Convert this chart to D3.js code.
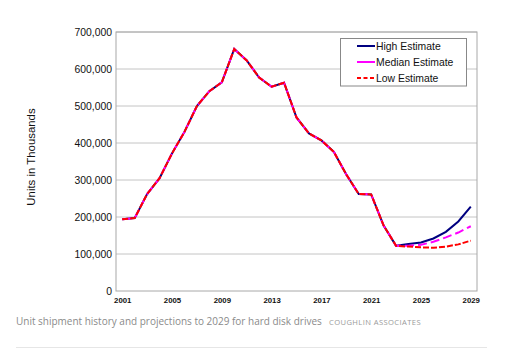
<!DOCTYPE html>
<html><head><meta charset="utf-8">
<script src="https://cdn.jsdelivr.net/npm/d3@7"></script>
<style>body{margin:0;background:#fff;}svg{display:block;}</style>
</head><body><svg id="c" width="512" height="355"></svg>
<script>
const years = d3.range(2001, 2030);
const history = [194,197,262,305,372,430,500,540,564,654,623,577,552,563,469,426,407,376,315,262,261,177,122];
const highProj = [127,131,142,160,188,228];
const medianProj = [122,125,133,145,158,175];
const lowProj = [120,118,117,120,126,136];
const yTicks = [0,100000,200000,300000,400000,500000,600000,700000];
const xTickYears = [2001,2005,2009,2013,2017,2021,2025,2029];
const seriesNames = ["High Estimate","Median Estimate","Low Estimate"];
const seriesColors = ["#000080","#ff00ff","#ff0000"];
const seriesDash = [null,"9,4","6,2"];

const toPts = proj => history.concat(proj).map((v,i)=>({year:years[i], value:v*1000}));
const series = [toPts(highProj), toPts(medianProj), toPts(lowProj)];

const svg = d3.select("#c");
const L=116, R=477, T=32, B=291;
const x = d3.scalePoint().domain(years).range([L,R]).padding(0.5);
const y = d3.scaleLinear().domain([0,700000]).range([B,T]);

// grid
svg.append("g").selectAll("line").data(yTicks.slice(1)).join("line")
  .attr("x1",L).attr("x2",R).attr("y1",d=>y(d)).attr("y2",d=>y(d))
  .attr("stroke","#c4c4c4").attr("stroke-width",1);
// frame
svg.append("rect").attr("x",L).attr("y",T).attr("width",R-L).attr("height",B-T)
  .attr("fill","none").attr("stroke","#a8a8a8").attr("stroke-width",1);

// y axis
const ya = svg.append("g").attr("transform",`translate(${L},0)`)
  .call(d3.axisLeft(y).tickValues(yTicks).tickSize(0).tickPadding(4).tickFormat(d3.format(",")));
ya.select(".domain").remove();
ya.selectAll("text").attr("font-family","Liberation Sans, Arial, sans-serif").attr("font-size",10.4).attr("fill","#111");

// x axis
const xa = svg.append("g").attr("transform",`translate(0,${B})`)
  .call(d3.axisBottom(x).tickValues(xTickYears).tickSize(0).tickPadding(6));
xa.select(".domain").remove();
xa.selectAll("text").attr("font-family","Liberation Sans, Arial, sans-serif").attr("font-size",7.8).attr("font-weight","bold").attr("fill","#111");

// y title
svg.append("text").attr("transform","translate(35,157) rotate(-90)")
  .attr("text-anchor","middle").attr("font-family","Liberation Sans, Arial, sans-serif")
  .attr("font-size",11.4).attr("fill","#111").text("Units in Thousands");

// lines
const line = d3.line().x(d=>x(d.year)).y(d=>y(d.value));
series.forEach((s,i)=>{
  svg.append("path").datum(s).attr("d",line).attr("fill","none")
    .attr("stroke",seriesColors[i]).attr("stroke-width",2)
    .attr("stroke-dasharray",seriesDash[i]);
});

// legend
const lg = svg.append("g");
lg.append("rect").attr("x",340.5).attr("y",38.5).attr("width",126).attr("height",47.5)
  .attr("fill","#fff").attr("stroke","#888").attr("stroke-width",1);
seriesNames.forEach((n,i)=>{
  const yy = 46 + i*16;
  lg.append("line").attr("x1",357).attr("x2",375).attr("y1",yy).attr("y2",yy)
    .attr("stroke",seriesColors[i]).attr("stroke-width",2).attr("stroke-dasharray",i===0?null:(i===1?"18,0":"4,2.5"));
  lg.append("text").attr("x",376).attr("y",yy+3.8).attr("font-family","Liberation Sans, Arial, sans-serif")
    .attr("font-size",10.4).attr("fill","#111").text(n);
});

// caption
const cap = svg.append("text").attr("x",16).attr("y",325).attr("font-family","Open Sans, sans-serif")
  .attr("font-size",11).attr("fill","#8a8a8a").text("Unit shipment history and projections to 2029 for hard disk drives");
const w = cap.node().getComputedTextLength();
cap.attr("font-size", 11*306/w);
svg.append("text").attr("x",329).attr("y",325).attr("font-family","Open Sans, sans-serif")
  .attr("font-size",7.6).attr("letter-spacing",0.4).attr("fill","#9a9a9a").text("COUGHLIN ASSOCIATES");
svg.append("line").attr("x1",16).attr("x2",487).attr("y1",347.5).attr("y2",347.5).attr("stroke","#e6e6e6").attr("stroke-width",1);
</script></body></html>
